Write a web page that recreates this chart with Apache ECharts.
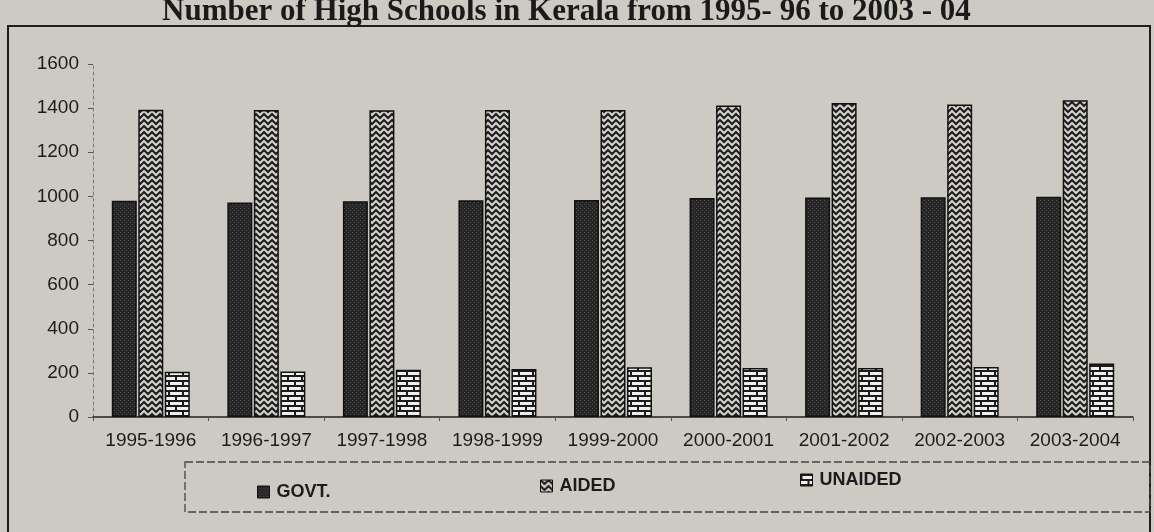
<!DOCTYPE html>
<html>
<head>
<meta charset="utf-8">
<script src="https://cdn.jsdelivr.net/npm/echarts@6/dist/echarts.min.js"></script>
<style>
html,body{margin:0;padding:0;background:#cdcac4;}
#c{width:1154px;height:532px;}
</style>
</head>
<body>
<div id="c"></div>
<script>
// ---- data ----
const titleText = 'Number of High Schools in Kerala from 1995- 96 to 2003 - 04';
const categories = ['1995-1996','1996-1997','1997-1998','1998-1999','1999-2000','2000-2001','2001-2002','2002-2003','2003-2004'];
const seriesNames = ['GOVT.', 'AIDED', 'UNAIDED'];
const govt    = [980, 972, 978, 982, 984, 993, 995, 996, 998];
const aided   = [1393, 1392, 1390, 1392, 1392, 1412, 1423, 1416, 1436];
const unaided = [205, 206, 214, 218, 225, 222, 222, 227, 243];
const yMin = 0, yMax = 1600, yStep = 200;

// ---- fill patterns (styling only) ----
function makeTile(w, h, draw) {
  const c = document.createElement('canvas');
  c.width = w; c.height = h;
  draw(c.getContext('2d'), w, h);
  return c;
}
const govtTile = makeTile(4, 4, (g) => {
  g.fillStyle = '#262626'; g.fillRect(0, 0, 4, 4);
  g.fillStyle = '#4d4d4d'; g.fillRect(0, 0, 1, 1); g.fillRect(2, 2, 1, 1);
});
const aidedTile = makeTile(8, 6, (g, w, h) => {
  g.fillStyle = '#d4d2ce'; g.fillRect(0, 0, w, h);
  g.strokeStyle = '#1c1c1c'; g.lineWidth = 2; g.lineCap = 'square';
  [-6, 0, 6].forEach(o => {
    g.beginPath(); g.moveTo(0, o); g.lineTo(4, o + 4); g.lineTo(8, o); g.stroke();
  });
});
const brickTile = makeTile(14, 10, (g) => {
  g.fillStyle = '#efefef'; g.fillRect(0, 0, 14, 10);
  g.fillStyle = '#1c1c1c';
  g.fillRect(0, 0, 14, 2); g.fillRect(0, 5, 14, 2);
  g.fillRect(0, 0, 2, 5); g.fillRect(7, 5, 2, 5);
});
const fills = [govtTile, aidedTile, brickTile].map(t => ({ image: t, repeat: 'repeat' }));
const values = [govt, aided, unaided];

const chart = echarts.init(document.getElementById('c'), null, { renderer: 'canvas' });
const font = '"Liberation Sans", Arial, sans-serif';

const option = {
  backgroundColor: '#cdcac4',
  animation: false,
  grid: { left: 93, right: 21, top: 64, bottom: 115, containLabel: false },
  legend: [
    { data: [seriesNames[0]], left: 252, top: 478 },
    { data: [seriesNames[1]], left: 535, top: 472 },
    { data: [seriesNames[2]], left: 795, top: 466 }
  ].map(l => Object.assign(l, {
    orient: 'horizontal', icon: 'rect', itemWidth: 12, itemHeight: 12,
    itemStyle: { borderColor: '#111', borderWidth: 1 },
    textStyle: { fontFamily: font, fontWeight: 'bold', fontSize: 18, color: '#1c1c1c', padding: [0, 0, 0, 2] }
  })),
  xAxis: {
    type: 'category',
    data: categories,
    boundaryGap: true,
    axisLine: { show: true, lineStyle: { color: '#222', width: 1.5 } },
    axisTick: { show: true, length: 4, lineStyle: { color: '#555', width: 1 } },
    axisLabel: { interval: 0, hideOverlap: false, fontFamily: font, fontSize: 19, color: '#1c1c1c', margin: 14 },
    splitLine: { show: false }
  },
  yAxis: {
    type: 'value',
    min: yMin, max: yMax, interval: yStep,
    axisLine: { show: true, lineStyle: { color: '#777', width: 1, type: [3, 3] } },
    axisTick: { show: true, length: 5, lineStyle: { color: '#555', width: 1 } },
    axisLabel: { formatter: v => String(v), fontFamily: font, fontSize: 19, color: '#1c1c1c', margin: 14 },
    splitLine: { show: false }
  },
  series: seriesNames.map((name, i) => ({
    name: name,
    type: 'bar',
    data: values[i],
    barWidth: 25,
    barGap: '6%',
    itemStyle: { color: fills[i], borderColor: '#111', borderWidth: 1.5 },
    emphasis: { disabled: true }
  })),
  graphic: [
    {
      type: 'text', left: 162, top: -4, silent: true,
      style: { text: titleText, font: 'bold 31px "Liberation Serif", "Times New Roman", serif', fill: '#1a1a1a' }
    },
    {
      type: 'rect', silent: true, z: -1,
      shape: { x: 8, y: 26, width: 1142, height: 560 },
      style: { fill: 'none', stroke: '#1e1e1e', lineWidth: 2 }
    },
    {
      type: 'rect', silent: true, z: -1,
      shape: { x: 185, y: 462, width: 965, height: 50 },
      style: { fill: 'none', stroke: '#444', lineWidth: 1.3, lineDash: [8, 3] }
    }
  ]
};
chart.setOption(option);
</script>
</body>
</html>
